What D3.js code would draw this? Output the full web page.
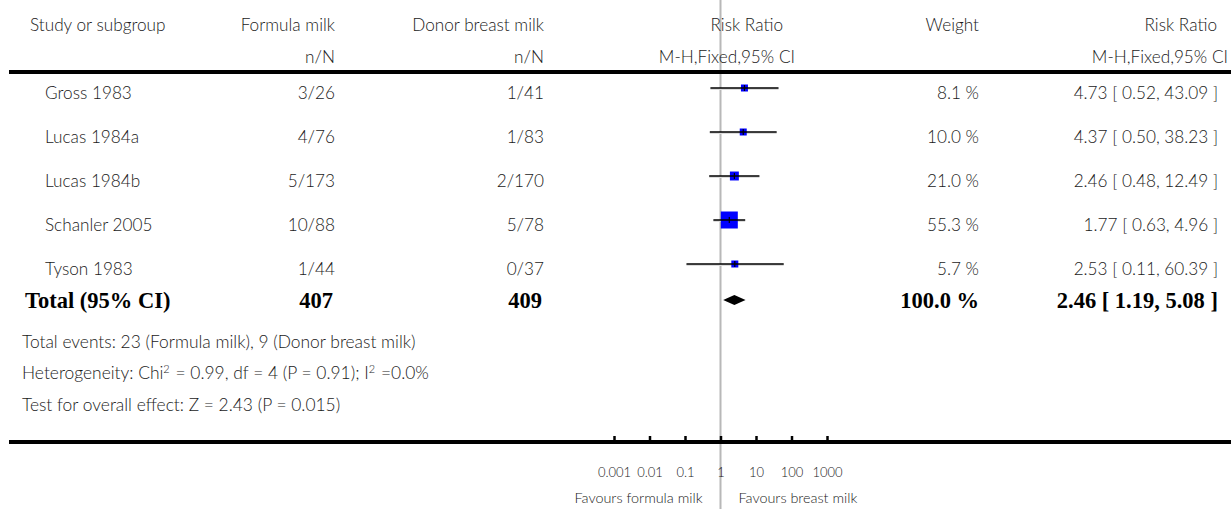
<!DOCTYPE html>
<html><head><meta charset="utf-8">
<script src="https://cdn.jsdelivr.net/npm/d3@7"></script>
<style>
html,body{margin:0;padding:0;background:#fff;}
svg{display:block;}
text{font-family:Lato,"Open Sans",sans-serif;font-weight:300;fill:#1a1a1a;}
.bold{font-family:"Liberation Serif","DejaVu Serif",serif;font-weight:bold;fill:#000;}
</style></head>
<body>
<svg id="c" width="1231" height="509"></svg>
<script>
const studies = ["Gross 1983","Lucas 1984a","Lucas 1984b","Schanler 2005","Tyson 1983"];
const formulaEvents = [3,4,5,10,1];
const formulaN = [26,76,173,88,44];
const donorEvents = [1,1,2,5,0];
const donorN = [41,83,170,78,37];
const riskRatio = [4.73,4.37,2.46,1.77,2.53];
const ciLow = [0.52,0.50,0.48,0.63,0.11];
const ciHigh = [43.09,38.23,12.49,4.96,60.39];
const weights = [8.1,10.0,21.0,55.3,5.7];
const totalN = [407,409];
const totalRR = [2.46,1.19,5.08];
const totalWeight = 100.0;
const tickValues = [0.001,0.01,0.1,1,10,100,1000];
const tickLabels = ["0.001","0.01","0.1","1","10","100","1000"];
const footnotes = [
  "Total events: 23 (Formula milk), 9 (Donor breast milk)",
  "Heterogeneity: Chi<sup>2</sup> = 0.99, df = 4 (P = 0.91); I<sup>2</sup> =0.0%",
  "Test for overall effect: Z = 2.43 (P = 0.015)"
];

const svg = d3.select("#c");
const x = d3.scaleLog().domain([0.001,1000]).range([614,827]);
const y = d3.scalePoint().domain(studies).range([88,264]);
const boxSize = d3.scaleLinear().domain([0,55.3]).range([4,17]);
const f2 = d3.format(".2f"), f1 = d3.format(".1f");

const colR = {formula:335, donor:544, weight:979, rr:1218};
const FS = 17.2;

// reference vertical line at RR=1
svg.append("line").attr("x1",x(1)).attr("x2",x(1)).attr("y1",0).attr("y2",509)
  .attr("stroke","#b8b8b8").attr("stroke-width",2);

// header
const hdr = svg.append("g").style("font-size",FS+"px");
hdr.append("text").attr("x",30).attr("y",31).text("Study or subgroup");
hdr.append("text").attr("x",colR.formula).attr("y",31).attr("text-anchor","end").text("Formula milk");
hdr.append("text").attr("x",colR.formula).attr("y",63).attr("text-anchor","end").text("n/N");
hdr.append("text").attr("x",colR.donor).attr("y",31).attr("text-anchor","end").text("Donor breast milk");
hdr.append("text").attr("x",colR.donor).attr("y",63).attr("text-anchor","end").text("n/N");
hdr.append("text").attr("x",783).attr("y",31).attr("text-anchor","end").text("Risk Ratio");
hdr.append("text").attr("x",795).attr("y",63).attr("text-anchor","end").text("M-H,Fixed,95% CI");
hdr.append("text").attr("x",colR.weight).attr("y",31).attr("text-anchor","end").text("Weight");
hdr.append("text").attr("x",1217).attr("y",31).attr("text-anchor","end").text("Risk Ratio");
hdr.append("text").attr("x",1228).attr("y",63).attr("text-anchor","end").text("M-H,Fixed,95% CI");

// thick rules
svg.append("line").attr("x1",9).attr("x2",1231).attr("y1",72).attr("y2",72)
  .attr("stroke","#000").attr("stroke-width",4);
svg.append("line").attr("x1",9).attr("x2",1231).attr("y1",442).attr("y2",442)
  .attr("stroke","#000").attr("stroke-width",4);

// study rows
const rows = svg.append("g").selectAll("g").data(studies).join("g")
  .attr("transform", d => `translate(0,${y(d)})`).style("font-size",FS+"px");
rows.append("text").attr("x",45).attr("y",10.5).text(d => d);
rows.append("text").attr("x",colR.formula).attr("y",10.5).attr("text-anchor","end")
  .text((d,i) => formulaEvents[i]+"/"+formulaN[i]);
rows.append("text").attr("x",colR.donor).attr("y",10.5).attr("text-anchor","end")
  .text((d,i) => donorEvents[i]+"/"+donorN[i]);
rows.append("text").attr("x",colR.weight).attr("y",10.5).attr("text-anchor","end")
  .text((d,i) => f1(weights[i])+" %");
rows.append("text").attr("x",colR.rr).attr("y",10.5).attr("text-anchor","end")
  .text((d,i) => `${f2(riskRatio[i])} [ ${f2(ciLow[i])}, ${f2(ciHigh[i])} ]`);
// CI shadow + line
rows.append("line").attr("x1",(d,i)=>x(ciLow[i])).attr("x2",(d,i)=>x(ciHigh[i]))
  .attr("y1",1).attr("y2",1).attr("stroke","#ddd").attr("stroke-width",2);
rows.append("rect")
  .attr("x",(d,i)=>x(riskRatio[i]) - Math.max(7,boxSize(weights[i]))/2)
  .attr("y",(d,i)=> -Math.max(7,boxSize(weights[i]))/2)
  .attr("width",(d,i)=>Math.max(7,boxSize(weights[i])))
  .attr("height",(d,i)=>Math.max(7,boxSize(weights[i])))
  .attr("fill","#0000ff");
rows.append("line").attr("x1",(d,i)=>x(ciLow[i])).attr("x2",(d,i)=>x(ciHigh[i]))
  .attr("y1",0).attr("y2",0).attr("stroke","#000").attr("stroke-width",1.5);
rows.append("line").attr("x1",(d,i)=>x(riskRatio[i])).attr("x2",(d,i)=>x(riskRatio[i]))
  .attr("y1",-3).attr("y2",3).attr("stroke","#000").attr("stroke-width",1.2);

// total row
const ty = 300;
const tot = svg.append("g").style("font-size","22.5px");
tot.append("text").attr("class","bold").attr("x",25).attr("y",ty+8).text("Total (95% CI)");
tot.append("text").attr("class","bold").attr("x",colR.formula-2).attr("y",ty+8).attr("text-anchor","end").text(totalN[0]);
tot.append("text").attr("class","bold").attr("x",colR.donor-2).attr("y",ty+8).attr("text-anchor","end").text(totalN[1]);
tot.append("text").attr("class","bold").attr("x",colR.weight).attr("y",ty+8).attr("text-anchor","end").text(f1(totalWeight)+" %");
tot.append("text").attr("class","bold").attr("x",colR.rr).attr("y",ty+8).attr("text-anchor","end")
  .text(`${f2(totalRR[0])} [ ${f2(totalRR[1])}, ${f2(totalRR[2])} ]`);
svg.append("path")
  .attr("d", `M${x(totalRR[1])},${ty} L${x(totalRR[0])},${ty-5} L${x(totalRR[2])},${ty} L${x(totalRR[0])},${ty+5} Z`)
  .attr("fill","#000");

// footnotes
const fy = [348,379,411];
footnotes.forEach((t,i) => {
  const el = svg.append("text").attr("x",22).attr("y",fy[i]).style("font-size","17.4px");
  const parts = t.split(/(<sup>.*?<\/sup>)/);
  parts.forEach(p => {
    if (!p) return;
    const m = p.match(/<sup>(.*?)<\/sup>/);
    if (m) {
      el.append("tspan").attr("dy",-6).style("font-size","11px").text(m[1]);
      el.append("tspan").attr("dy",6).text("\u200a");
    } else el.append("tspan").text(p);
  });
});

// axis
const axis = d3.axisBottom(x).tickValues(tickValues)
  .tickFormat((d,i) => tickLabels[i]).tickSizeInner(-6).tickSizeOuter(0).tickPadding(26);
const ag = svg.append("g").attr("transform","translate(0,442)").call(axis);
ag.select(".domain").remove();
ag.selectAll(".tick line").attr("stroke","#000").attr("stroke-width",2.5);
ag.selectAll(".tick text").attr("fill","#1a1a1a").style("font-family","Lato,sans-serif").style("font-weight",300).style("font-size","13px");

svg.append("text").attr("x",x(1)-18).attr("y",503).attr("text-anchor","end").style("font-size","14.4px").text("Favours formula milk");
svg.append("text").attr("x",x(1)+18).attr("y",503).style("font-size","14.4px").text("Favours breast milk");
</script>
</body></html>
